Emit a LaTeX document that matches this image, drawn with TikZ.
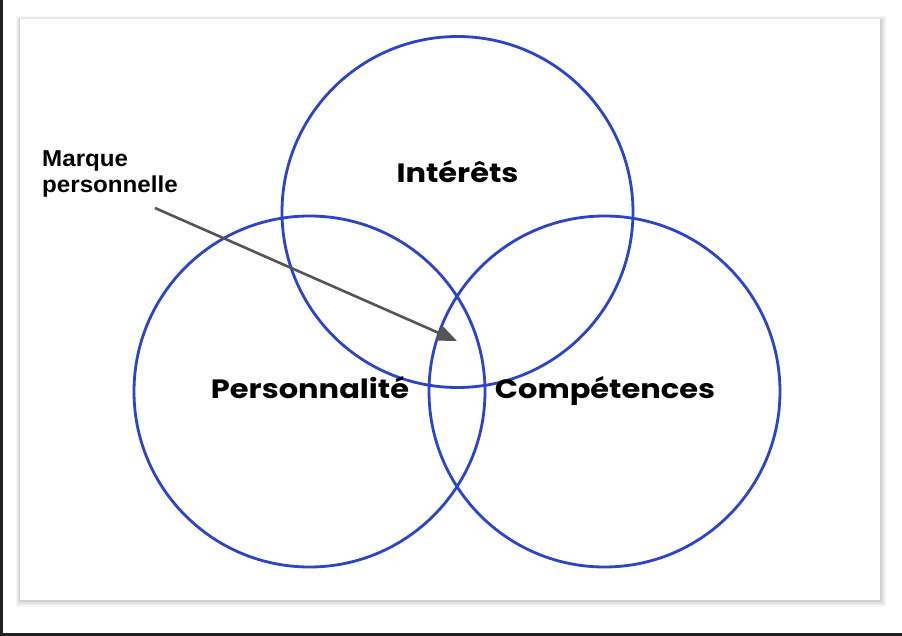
\documentclass[tikz,border=0pt]{standalone}
\usepackage{fontspec}
\setmainfont{Poppins}
\newfontfamily\arialfont{Liberation Sans}
\usetikzlibrary{arrows.meta}
\definecolor{ringblue}{RGB}{44,68,200}
\definecolor{arrowgray}{RGB}{85,85,85}
\definecolor{edgedark}{RGB}{34,34,34}
\tikzset{
  ring/.style={circle, draw=ringblue, line width=2.8pt, minimum size=351pt, inner sep=0pt},
  biglabel/.style={font=\fontsize{26.5}{30}\selectfont\bfseries, text=black, anchor=base, inner sep=0pt, xscale=1.15},
  notelabel/.style={font=\arialfont\fontsize{23}{26}\selectfont\bfseries, align=left, anchor=north west, inner sep=0pt, xscale=1.05},
  pointer/.style={draw=arrowgray, line width=2.6pt, -{Triangle[length=20pt,width=16pt]}}
}
\begin{document}
\begin{tikzpicture}[x=1pt,y=-1pt]
\useasboundingbox (0,0) rectangle (902,636);
\fill[white] (0,0) rectangle (902,636);
\fill[edgedark] (0,0) rectangle (2.5,636);
\fill[edgedark] (0,633) rectangle (902,636);
% card shadow
\fill[black!4] (16,16) rectangle (886,607);
\fill[black!7] (17,17) rectangle (885,605);
\fill[black!11] (18,18) rectangle (884,604);
\fill[black!18] (19,19) rectangle (882,602);
\fill[white] (20,19) rectangle (880,600);
% circles
\node[ring] (interets) at (457.5,212) {};
\node[ring] (perso) at (309.5,391.5) {};
\node[ring] (comp) at (604.5,391.5) {};
% labels
\node[biglabel] (tI) at (457.5,183) {Intérêts};
\node[biglabel] (tP) at (310,398) {Personnalité};
\node[biglabel] (tC) at (605,398) {Compétences};
\node[notelabel] (mp) at (42,150) {Marque\\personnelle};
\coordinate (a0) at (155,208);
\coordinate (a1) at (457,341);
\draw[pointer] (a0) -- (a1);
\end{tikzpicture}
\end{document}
